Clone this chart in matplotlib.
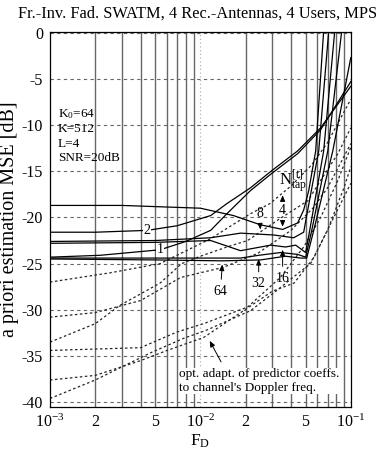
import numpy as np
import matplotlib
matplotlib.use("Agg")
import matplotlib.pyplot as plt
from matplotlib.ticker import FixedLocator, NullFormatter

plt.rcParams["font.family"] = "Liberation Serif"
plt.rcParams["mathtext.fontset"] = "custom"
plt.rcParams["mathtext.rm"] = "Liberation Serif"
plt.rcParams["mathtext.it"] = "Liberation Serif:italic"

# solid curves: fixed predictor coefficients, one per N_tap
FD_N1 = [1e-3, 2.15e-3, 5.4e-3, 8e-3, 1.17e-2, 1.5e-2, 2.15e-2, 3e-2, 4.43e-2, 6.3e-2, 1e-1]
MSE_N1 = [-24.3, -24.1, -23.5, -22.6, -21.4, -19.6, -17.1, -15.2, -13.1, -10.5, -5.3]

FD_N2 = [1e-3, 2e-3, 4.43e-3, 7e-3, 1.17e-2, 1.5e-2, 2.15e-2, 3e-2, 4.43e-2, 6.3e-2, 1e-1]
MSE_N2 = [-21.6, -21.6, -21.4, -20.9, -19.8, -18.5, -16.8, -14.9, -12.8, -10.3, -5.8]

FD_N4 = [1e-3, 3e-3, 1e-2, 1.66e-2, 2.51e-2, 3.52e-2, 4.43e-2, 4.86e-2, 5.25e-2, 5.84e-2, 6.6e-2]
MSE_N4 = [-18.7, -18.7, -19.0, -19.8, -20.8, -21.3, -20.6, -19.2, -17.1, -12.8, 0.2]

FD_N8 = [1e-3, 5e-3, 1.17e-2, 1.85e-2, 3.07e-2, 4.17e-2, 4.86e-2, 5.09e-2, 6.12e-2, 7.13e-2]
MSE_N8 = [-22.6, -22.5, -22.2, -21.7, -21.9, -22.2, -21.6, -19.8, -12.8, 0.2]

FD_N16 = [1e-3, 5e-3, 1.17e-2, 1.85e-2, 2.93e-2, 3.68e-2, 4.3e-2, 5.01e-2, 5.33e-2, 6.6e-2, 7.82e-2]
MSE_N16 = [-22.8, -22.7, -22.5, -23.6, -23.0, -23.2, -23.0, -23.8, -21.4, -12.8, 0.2]

FD_N32 = [1e-3, 5e-3, 1.17e-2, 1.85e-2, 2.44e-2, 3.41e-2, 4.43e-2, 5.01e-2, 5.5e-2, 7.03e-2, 8.7e-2]
MSE_N32 = [-24.4, -24.4, -24.4, -24.4, -24.1, -23.8, -24.0, -24.3, -21.4, -12.8, 0.2]

FD_N64 = [1e-3, 5e-3, 1.4e-2, 2.51e-2, 3.68e-2, 4.65e-2, 5.09e-2, 5.67e-2, 7.59e-2, 1e-1]
MSE_N64 = [-24.5, -24.6, -24.7, -24.6, -24.2, -24.4, -24.4, -21.4, -12.8, -2.7]

# dashed curves: predictor coefficients adapted to the Doppler frequency
FD_D1 = [1e-3, 2.5e-3, 5.4e-3, 1.17e-2, 1.6e-2, 2.15e-2, 2.9e-2, 4e-2, 5.5e-2, 7e-2, 1e-1]
MSE_D1 = [-27.0, -26.0, -25.0, -22.3, -20.9, -19.6, -18.5, -16.6, -14.3, -11.9, -7.2]

FD_D2 = [1e-3, 2e-3, 4e-3, 7.4e-3, 1.42e-2, 2.4e-2, 4e-2, 5.67e-2, 7e-2, 1e-1]
MSE_D2 = [-30.8, -30.3, -29.0, -26.5, -25.4, -23.9, -21.4, -18.9, -16.8, -12.0]

FD_D3 = [1e-3, 2e-3, 2.93e-3, 5.4e-3, 7.5e-3, 1e-2, 1.5e-2, 2.06e-2, 3.4e-2, 5.17e-2, 6.3e-2, 8.2e-2, 1e-1]
MSE_D3 = [-33.5, -31.5, -29.5, -27.1, -25.0, -24.2, -23.2, -22.5, -20.1, -18.2, -16.0, -13.1, -10.3]

FD_D4 = [1e-3, 4e-3, 7e-3, 1.05e-2, 2.06e-2, 3.4e-2, 4.86e-2, 6.3e-2, 8.2e-2, 1e-1]
MSE_D4 = [-34.4, -34.1, -32.4, -31.5, -29.7, -26.5, -23.2, -20.0, -16.0, -12.4]

FD_D5 = [1e-3, 2e-3, 4e-3, 6e-3, 1.05e-2, 2.06e-2, 3e-2, 4.2e-2, 5.7e-2, 7.7e-2, 1e-1]
MSE_D5 = [-37.6, -37.1, -35.5, -34.4, -33.0, -29.8, -28.0, -27.1, -24.3, -20.0, -16.3]

FD_D6 = [1e-3, 2e-3, 4.6e-3, 7.7e-3, 1.1e-2, 2.15e-2, 3e-2, 4.5e-2, 5.4e-2, 7e-2, 9e-2, 1e-1]
MSE_D6 = [-39.6, -37.6, -34.7, -33.1, -32.2, -30.1, -28.3, -26.0, -25.0, -21.4, -16.8, -14.5]

SOLID = [(FD_N1, MSE_N1), (FD_N2, MSE_N2), (FD_N4, MSE_N4), (FD_N8, MSE_N8),
         (FD_N16, MSE_N16), (FD_N32, MSE_N32), (FD_N64, MSE_N64)]
DASHED = [(FD_D1, MSE_D1), (FD_D2, MSE_D2), (FD_D3, MSE_D3),
          (FD_D4, MSE_D4), (FD_D5, MSE_D5), (FD_D6, MSE_D6)]

X_TICKS = [1e-3, 2e-3, 5e-3, 1e-2, 2e-2, 5e-2, 1e-1]
X_LABELS = [r"$\mathregular{10^{-3}}$", "2", "5", r"$\mathregular{10^{-2}}$",
            "2", "5", r"$\mathregular{10^{-1}}$"]
Y_TICKS = [0, -5, -10, -15, -20, -25, -30, -35, -40]
MINOR_X = [m * d for d in (1e-3, 1e-2) for m in range(2, 10)]

fig = plt.figure(figsize=(3.76, 4.54), dpi=100)
ax = fig.add_axes([0.133, 0.104, 0.800, 0.826])

# grid drawn by hand to mimic the scanned look
ax.set_xscale("log")
ax.set_xlim(1e-3, 1e-1)
ax.set_ylim(-40.5, 0.1)
for x in MINOR_X:
    ax.axvline(x, color="0.4", lw=1.0, zorder=0)
ax.axvline(1e-2, color="0.7", lw=0.9, ls=(0, (1, 2)), zorder=0)
for y in Y_TICKS:
    ax.axhline(y, color="0.4", lw=0.8, ls=(0, (3, 3)), zorder=0)

for fd, mse in DASHED:
    ax.plot(fd, mse, color="0.15", lw=0.9, ls=(0, (2, 2)), zorder=2)
for fd, mse in SOLID:
    ax.plot(fd, mse, color="black", lw=0.9, zorder=3)

ax.xaxis.set_major_locator(FixedLocator(X_TICKS))
ax.xaxis.set_minor_locator(FixedLocator(MINOR_X))
ax.xaxis.set_minor_formatter(NullFormatter())
ax.set_xticklabels(X_LABELS)
ax.set_yticks(Y_TICKS)
ax.set_yticklabels([str(v) for v in Y_TICKS])
ax.tick_params(which="both", length=0, labelsize=11.5, pad=5)
for sp in ax.spines.values():
    sp.set_linewidth(0.9)

ax.set_xlabel(r"$\mathregular{F_D}$", fontsize=12.5, labelpad=1)
ax.set_ylabel("a priori estimation MSE [dB]", fontsize=14.5, labelpad=2)

fig.text(0.048, 0.969, "Fr.-Inv. Fad. SWATM, 4 Rec.-Antennas, 4 Users, MPSK",
         ha="left", va="center", fontsize=11.8)

# parameter block
params = [r"$\mathregular{K_0}$=64", "K=512", "L=4", "SNR=20dB"]
for i, s in enumerate(params):
    ax.text(1.13e-3, -8.8 - 1.6 * i, s, fontsize=9.5, va="center", ha="left")

box = dict(facecolor="white", edgecolor="none", pad=0.3)
ax.text(4.43e-3, -21.4, "2", fontsize=10, ha="center", va="center", bbox=box, zorder=4)
ax.text(5.4e-3, -23.5, "1", fontsize=10, ha="center", va="center", bbox=box, zorder=4)

arrow = dict(arrowstyle="-|>,head_length=0.35,head_width=0.15", color="black", lw=0.7)
ax.annotate("8", xy=(2.51e-2, -21.6), xytext=(2.47e-2, -19.6), fontsize=10,
            ha="center", va="center", arrowprops=arrow, zorder=5)
ax.text(4.1e-2, -16.1, r"$\mathregular{N^{[t]}_{tap}}$", fontsize=12,
        ha="center", va="center", zorder=5)
ax.text(3.52e-2, -19.2, "4", fontsize=10, ha="center", va="center", zorder=5)
ax.annotate("", xy=(3.52e-2, -17.3), xytext=(3.52e-2, -18.4), arrowprops=arrow)
ax.annotate("", xy=(3.52e-2, -21.3), xytext=(3.52e-2, -20.0), arrowprops=arrow)
ax.annotate("64", xy=(1.4e-2, -24.8), xytext=(1.36e-2, -28.0), fontsize=10,
            ha="center", va="center", arrowprops=arrow)
ax.annotate("32", xy=(2.44e-2, -24.2), xytext=(2.44e-2, -27.2), fontsize=10,
            ha="center", va="center", arrowprops=arrow)
ax.annotate("16", xy=(3.52e-2, -23.2), xytext=(3.52e-2, -26.6), fontsize=10,
            ha="center", va="center", arrowprops=arrow)

ax.text(7.24e-3, -37.7, "opt. adapt. of predictor coeffs.\nto channel's Doppler freq.",
        fontsize=9.5, ha="left", va="center", linespacing=1.15,
        bbox=dict(facecolor="white", edgecolor="none", pad=0.2), zorder=5)
ax.annotate("", xy=(1.13e-2, -33.1), xytext=(1.4e-2, -35.9), arrowprops=arrow)

plt.savefig("out.png", dpi=100)
